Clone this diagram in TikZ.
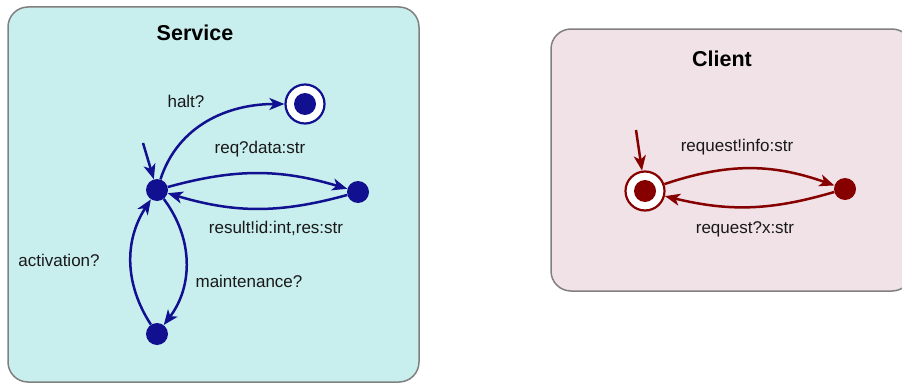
\documentclass[tikz,border=0pt]{standalone}
\usepackage{fontspec}
\setmainfont{Liberation Sans}
\usetikzlibrary{arrows.meta}
\definecolor{svcfill}{RGB}{200,238,238}
\definecolor{clifill}{RGB}{240,226,230}
\definecolor{boxline}{RGB}{128,128,128}
\definecolor{sblue}{RGB}{16,16,145}
\definecolor{cred}{RGB}{135,0,0}
\definecolor{txt}{RGB}{25,25,25}
\begin{document}
\begin{tikzpicture}[x=1pt,y=1pt,
  box/.style={draw=boxline, line width=1.5pt, rounded corners=20pt},
  lbl/.style={text=txt, font=\fontsize{17}{20}\selectfont, inner sep=0, text height=12pt, text depth=3.5pt},
  ttl/.style={text=black, font=\fontsize{21.5}{24}\selectfont\bfseries, inner sep=0, text height=15pt, text depth=4pt},
  sdot/.style={circle, fill=#1, minimum size=22pt, inner sep=0},
  fring/.style={circle, draw=#1, fill=white, line width=2.2pt, minimum size=39pt, inner sep=0},
  tr/.style={draw=#1, line width=2.5pt, -{Stealth[length=15pt,width=12pt,inset=4pt]}},
]
\useasboundingbox (0,0) rectangle (902,384);
\clip (0,0) rectangle (902,384);
% containers
\draw[box, fill=svcfill] (8,2) rectangle (419,377);
\draw[box, fill=clifill] (551,93) rectangle (912,355);
\node[ttl] (svc) at (195,349) {Service};
\node[ttl] (cli) at (722,323) {Client};
% service states
\node[sdot=sblue] (A) at (157,194) {};
\node[fring=sblue] (B) at (305,280) {};
\node[sdot=sblue] (Bin) at (B.center) {};
\node[sdot=sblue] (C) at (358,192) {};
\node[sdot=sblue] (D) at (157,50) {};
\coordinate (sI) at (143,241);
% client states
\node[fring=cred] (E) at (645,193) {};
\node[sdot=cred] (Ein) at (E.center) {};
\node[sdot=cred] (F) at (845,195) {};
\coordinate (cI) at (636,254);
% service transitions
\draw[tr=sblue] (sI) -- (A);
\draw[tr=sblue] (A) to[out=72,in=180] (B);
\draw[tr=sblue] (A) to[bend left=16] (C);
\draw[tr=sblue] (C) to[bend left=16] (A);
\draw[tr=sblue] (A) to[bend left=37] (D);
\draw[tr=sblue] (D) to[bend left=33] (A);
% client transitions
\draw[tr=cred] (cI) -- (E);
\draw[tr=cred] (E) to[bend left=19] (F);
\draw[tr=cred] (F) to[bend left=15] (E);
% labels
\node[lbl] (l1) at (186,281) {halt?};
\node[lbl] (l2) at (260,235) {req?data:str};
\node[lbl] (l3) at (276,155) {result!id:int,res:str};
\node[lbl] (l4) at (59,122) {activation?};
\node[lbl] (l5) at (249,101) {maintenance?};
\node[lbl] (l6) at (737,237) {request!info:str};
\node[lbl] (l7) at (745,155) {request?x:str};
\end{tikzpicture}
\end{document}
